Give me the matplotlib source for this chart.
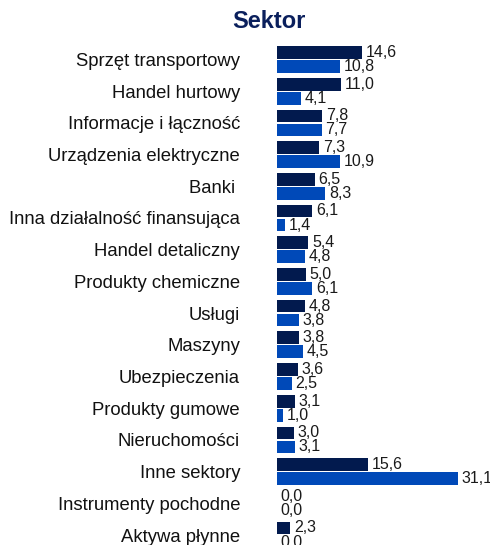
import matplotlib
matplotlib.use("Agg")
import matplotlib.pyplot as plt
import numpy as np

categories = ["Sprzęt transportowy", "Handel hurtowy", "Informacje i łączność",
              "Urządzenia elektryczne", "Banki ", "Inna działalność finansująca",
              "Handel detaliczny", "Produkty chemiczne", "Usługi", "Maszyny",
              "Ubezpieczenia", "Produkty gumowe", "Nieruchomości", "Inne sektory",
              "Instrumenty pochodne", "Aktywa płynne"]
series_a = [14.6, 11.0, 7.8, 7.3, 6.5, 6.1, 5.4, 5.0, 4.8, 3.8, 3.6, 3.1, 3.0, 15.6, 0.0, 2.3]
series_b = [10.8, 4.1, 7.7, 10.9, 8.3, 1.4, 4.8, 6.1, 3.8, 4.5, 2.5, 1.0, 3.1, 31.1, 0.0, 0.0]

plt.rcParams['font.family'] = ['Liberation Sans', 'DejaVu Sans']

W, H = 490, 545
fig = plt.figure(figsize=(W/100, H/100), dpi=100)
row = 31.7
top_px = 59.5 - row/2
ax_h = row * len(categories)
left_px, right_px = 277, 486.5
ax = fig.add_axes([left_px/W, 1 - (top_px + ax_h)/H, (right_px-left_px)/W, ax_h/H])

dark = "#021A4E"
blue = "#0049B8"
y = np.arange(len(categories))
off = 0.222
hgt = 0.40
ax.barh(y - off, series_a, height=hgt, color=dark)
ax.barh(y + off, series_b, height=hgt, color=blue)

def fmt(v):
    return f"{v:.1f}".replace(".", ",")

for yi, a, b in zip(y, series_a, series_b):
    ax.annotate(fmt(a), (a, yi - off), xytext=(2.5, 0), textcoords="offset points",
                va="center", ha="left", fontsize=11.5, color="#1a1a1a")
    ax.annotate(fmt(b), (b, yi + off), xytext=(2.5, 0), textcoords="offset points",
                va="center", ha="left", fontsize=11.5, color="#1a1a1a")

ax.set_xlim(0, 36)
ax.set_ylim(len(categories) - 0.5, -0.5)
ax.set_yticks(y)
ax.set_yticklabels(categories, fontsize=13.3, color="#111111")
ax.tick_params(axis="y", length=0, pad=26.6)
ax.set_xticks([])
for s in ax.spines.values():
    s.set_visible(False)

fig.text(269/W, 1 - 22/H, "Sektor", ha="center", va="center", fontsize=17,
         fontweight="bold", color="#0A1F5C")

fig.savefig("out.png", dpi=100)
